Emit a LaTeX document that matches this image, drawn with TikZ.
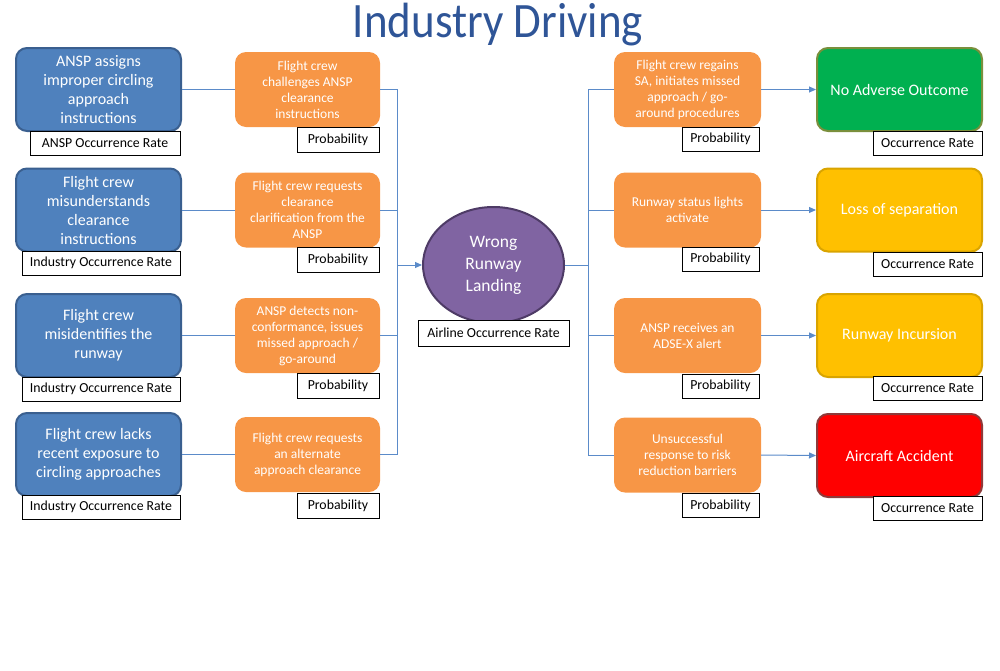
\documentclass[tikz,border=0pt]{standalone}
\usepackage{fontspec}
\setmainfont{Carlito}
\usetikzlibrary{shapes.geometric,arrows.meta}
\definecolor{titleblue}{HTML}{2F5597}
\definecolor{bfill}{HTML}{4F81BD}
\definecolor{bdraw}{HTML}{3A5F8F}
\definecolor{ofill}{HTML}{F79646}
\definecolor{gfill}{HTML}{00B050}
\definecolor{gdraw}{HTML}{7A8F3C}
\definecolor{yfill}{HTML}{FFC000}
\definecolor{ydraw}{HTML}{D9A400}
\definecolor{rfill}{HTML}{FF0000}
\definecolor{rdraw}{HTML}{8E3A3A}
\definecolor{pfill}{HTML}{8064A2}
\definecolor{pdraw}{HTML}{4E3B66}
\definecolor{conn}{HTML}{5B8BC9}
\tikzset{
  causebox/.style={draw=bdraw, line width=2pt, fill=bfill, rounded corners=11pt,
    minimum width=165pt, minimum height=83pt, inner sep=0pt, align=center,
    text=white, font=\fontsize{16}{19}\selectfont},
  barrier/.style={fill=ofill, rounded corners=11pt,
    minimum height=75pt, inner sep=0pt, align=center,
    text=white, font=\fontsize{13.5}{16}\selectfont},
  outcome/.style={line width=2pt, rounded corners=11pt,
    minimum width=165pt, minimum height=83pt, inner sep=0pt, align=center,
    text=white, font=\fontsize{16}{19}\selectfont},
  tag/.style={draw=black, line width=0.9pt, fill=white, minimum height=24pt,
    inner sep=0pt, align=center, text=black, font=\fontsize{13.8}{15}\selectfont},
  link/.style={draw=conn, line width=1pt},
  arr/.style={link, -{Triangle[length=7pt,width=6pt]}},
}
\begin{document}
\begin{tikzpicture}[x=1pt,y=-1pt]
\useasboundingbox (0,0) rectangle (1000,670);
\node[text=titleblue, font=\fontsize{45}{50}\selectfont, anchor=base, inner sep=0pt] (title) at (498,37) {\scalebox{1}[1.1]{Industry Driving}};

% causes
\node[causebox] (c1) at (98.5,89.5) {ANSP assigns\\improper circling\\approach\\instructions};
\node[causebox] (c2) at (98.5,210) {Flight crew\\misunderstands\\clearance\\instructions};
\node[causebox] (c3) at (98.5,335.5) {Flight crew\\misidentifies the\\runway};
\node[causebox] (c4) at (98.5,454.5) {Flight crew lacks\\recent exposure to\\circling approaches};
\node[tag, minimum width=150pt] (c1t) at (105,143) {ANSP Occurrence Rate};
\node[tag, minimum width=158pt] (c2t) at (101,263) {Industry Occurrence Rate};
\node[tag, minimum width=158pt] (c3t) at (101,389) {Industry Occurrence Rate};
\node[tag, minimum width=158pt] (c4t) at (101,507) {Industry Occurrence Rate};

% left barriers
\node[barrier, minimum width=145pt] (l1) at (307.5,89.5) {Flight crew\\challenges ANSP\\clearance\\instructions};
\node[barrier, minimum width=145pt] (l2) at (307.5,210) {Flight crew requests\\clearance\\clarification from the\\ANSP};
\node[barrier, minimum width=145pt] (l3) at (307.5,335.5) {ANSP detects non-\\conformance, issues\\missed approach /\\go-around};
\node[barrier, minimum width=145pt] (l4) at (307.5,454.5) {Flight crew requests\\an alternate\\approach clearance};
\node[tag, minimum width=82pt, minimum height=25pt] (l1t) at (338,139.5) {Probability};
\node[tag, minimum width=82pt, minimum height=25pt] (l2t) at (338,259.5) {Probability};
\node[tag, minimum width=82pt, minimum height=25pt] (l3t) at (338,385.5) {Probability};
\node[tag, minimum width=82pt, minimum height=25pt] (l4t) at (338,505.5) {Probability};

% central event
\node[ellipse, draw=pdraw, line width=2pt, fill=pfill, minimum width=141pt, minimum height=116pt,
  inner sep=0pt, align=center, text=white, font=\fontsize{17.5}{22}\selectfont] (wrl) at (493.5,265) {Wrong\\Runway\\Landing};
\node[tag, minimum width=151pt, minimum height=26pt] (wrlt) at (493.5,333) {Airline Occurrence Rate};

% right barriers
\node[barrier, minimum width=147pt] (r1) at (687.5,89.5) {Flight crew regains\\SA, initiates missed\\approach / go-\\around procedures};
\node[barrier, minimum width=147pt] (r2) at (687.5,210) {Runway status lights\\activate};
\node[barrier, minimum width=147pt] (r3) at (687.5,335.5) {ANSP receives an\\ADSE-X alert};
\node[barrier, minimum width=147pt] (r4) at (687.5,455) {Unsuccessful\\response to risk\\reduction barriers};
\node[tag, minimum width=77pt] (r1t) at (720.5,139) {Probability};
\node[tag, minimum width=77pt] (r2t) at (720.5,259) {Probability};
\node[tag, minimum width=77pt] (r3t) at (720.5,386) {Probability};
\node[tag, minimum width=77pt] (r4t) at (720.5,505.5) {Probability};

% outcomes
\node[outcome, draw=gdraw, fill=gfill] (o1) at (899.5,89.5) {No Adverse Outcome};
\node[outcome, draw=ydraw, fill=yfill] (o2) at (899.5,210) {Loss of separation};
\node[outcome, draw=ydraw, fill=yfill] (o3) at (899.5,335.5) {Runway Incursion};
\node[outcome, draw=rdraw, fill=rfill] (o4) at (899.5,455.5) {Aircraft Accident};
\node[tag, minimum width=109pt] (o1t) at (927.5,143) {Occurrence Rate};
\node[tag, minimum width=109pt] (o2t) at (927.5,264) {Occurrence Rate};
\node[tag, minimum width=109pt] (o3t) at (927.5,388.5) {Occurrence Rate};
\node[tag, minimum width=109pt] (o4t) at (927.5,508.5) {Occurrence Rate};

% connectors
\coordinate (jl) at (397,265);
\coordinate (jr) at (588,265);
\foreach \i in {1,2,3,4}{
  \draw[link] (c\i.east) -- (l\i.west);
  \draw[link] (l\i.east) -| (jl);
  \draw[link] (jr) |- (r\i.west);
  \draw[arr] (r\i.east) -- (o\i.west);
}
\draw[arr] (jl) -- (wrl.west);
\draw[link] (wrl.east) -- (jr);
\end{tikzpicture}
\end{document}
